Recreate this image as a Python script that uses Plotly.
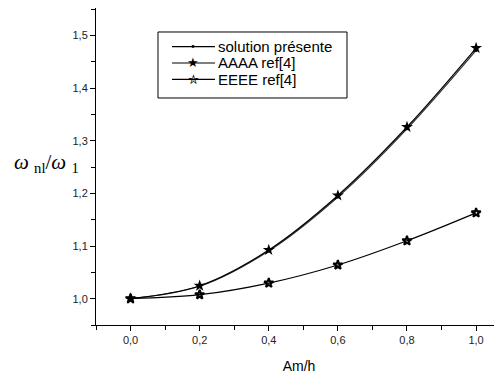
import plotly.graph_objects as go

am_h = [0.0, 0.2, 0.4, 0.6, 0.8, 1.0]
solution_presente = [1.000, 1.0235, 1.0905, 1.1930, 1.3225, 1.4715]
aaaa_ref4 = [1.000, 1.0245, 1.0925, 1.1960, 1.3260, 1.4760]
eeee_ref4 = [1.000, 1.0075, 1.0296, 1.0640, 1.1100, 1.1630]

series_names = ["solution présente", "AAAA ref[4]", "EEEE ref[4]"]
legend_glyphs = ["•", "★", "✮"]

x_ticks = [0.0, 0.2, 0.4, 0.6, 0.8, 1.0]
x_ticktext = ["0,0", "0,2", "0,4", "0,6", "0,8", "1,0"]
y_ticks = [1.0, 1.1, 1.2, 1.3, 1.4, 1.5]
y_ticktext = ["1,0", "1,1", "1,2", "1,3", "1,4", "1,5"]

fig = go.Figure()
fig.add_trace(go.Scatter(
    x=am_h, y=solution_presente, name=series_names[0], mode="lines+markers",
    line=dict(color="#333333", width=1.2, shape="spline"),
    marker=dict(symbol="circle", size=3, color="black"),
))
fig.add_trace(go.Scatter(
    x=am_h, y=aaaa_ref4, name=series_names[1], mode="lines+markers",
    line=dict(color="black", width=1.2, shape="spline"),
    marker=dict(symbol="star", size=9, color="black"),
))
fig.add_trace(go.Scatter(
    x=am_h, y=eeee_ref4, name=series_names[2], mode="lines+markers",
    line=dict(color="black", width=1.2, shape="spline"),
    marker=dict(symbol="star-open", size=7, color="black", line=dict(width=2, color="black")),
))

axis_common = dict(
    showgrid=False, zeroline=False, showline=True, linecolor="black", linewidth=1,
    ticks="outside", ticklen=5, tickwidth=1, tickcolor="black",
    tickfont=dict(family="Liberation Sans, Arial", size=11, color="#222222"),
)

fig.update_xaxes(
    range=[-0.1, 1.075], tickvals=x_ticks, ticktext=x_ticktext,
    minor=dict(dtick=0.1, tick0=-0.1, ticks="outside", ticklen=4, tickcolor="black"),
    title=dict(text="Am/h", font=dict(family="Liberation Sans, Arial", size=14, color="black"), standoff=15),
    **axis_common,
)
fig.update_yaxes(
    range=[0.95, 1.552], tickvals=y_ticks, ticktext=y_ticktext,
    minor=dict(dtick=0.05, tick0=0.95, ticks="outside", ticklen=4, tickcolor="black"),
    **axis_common,
)

fig.add_annotation(
    xref="paper", yref="y", x=-0.207, y=1.257, xanchor="left", yanchor="middle",
    text="<i>ω</i> <sub>nl</sub>/<i>ω</i> <sub>1</sub>", showarrow=False,
    font=dict(family="Liberation Serif, Times New Roman", size=21, color="black"),
)

# Manual legend (box, line samples, glyphs, labels) in paper coordinates
box = dict(x0=0.1527, x1=0.6182, y0=0.7161, y1=0.9243)
row_y = [0.8779, 0.8265, 0.7751]
sample_x0, sample_x1, glyph_x, text_x = 0.1872, 0.2931, 0.2401, 0.2956
glyph_sizes = [10, 13, 13]

fig.add_shape(type="rect", xref="paper", yref="paper", **box,
              line=dict(color="black", width=1), fillcolor="white", layer="above")
for i, name in enumerate(series_names):
    fig.add_shape(type="line", xref="paper", yref="paper",
                  x0=sample_x0, x1=sample_x1, y0=row_y[i], y1=row_y[i],
                  line=dict(color="black", width=1.2), layer="above")
    fig.add_annotation(xref="paper", yref="paper", x=glyph_x, y=row_y[i],
                       xanchor="center", yanchor="middle", showarrow=False,
                       text=legend_glyphs[i],
                       font=dict(family="DejaVu Sans", size=glyph_sizes[i], color="black"))
    fig.add_annotation(xref="paper", yref="paper", x=text_x, y=row_y[i],
                       xanchor="left", yanchor="middle", showarrow=False, text=name,
                       font=dict(family="Liberation Sans, Arial", size=15, color="black"))

fig.update_layout(
    width=502, height=375,
    margin=dict(l=88, r=8, t=0, b=58),
    plot_bgcolor="white", paper_bgcolor="white",
    showlegend=False,
)

fig.write_html("out.html")
